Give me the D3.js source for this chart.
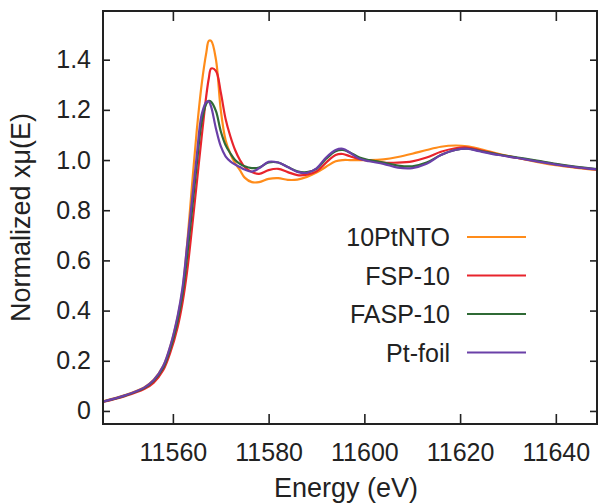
<!DOCTYPE html>
<html lang="en">
<head>
<meta charset="UTF-8">
<title>Pt L3-edge XANES</title>
<script src="https://cdn.jsdelivr.net/npm/d3@7/dist/d3.min.js"></script>
<style>
  body { margin: 0; background: #fff; }
  text { font-family: "Liberation Sans", Arial, sans-serif; fill: #222; }
</style>
</head>
<body>
<svg id="chart" width="600" height="504"></svg>
<script>
// energy grid (eV)
var energy = [11545, 11550, 11554, 11556, 11558, 11559.5, 11561, 11562, 11563, 11564,
  11565, 11566, 11567, 11567.5, 11568, 11569, 11570, 11571, 11572, 11573,
  11574, 11575, 11576.5, 11578, 11580, 11582, 11584, 11586, 11588, 11590,
  11592, 11594, 11595.5, 11597, 11599, 11601, 11604, 11607, 11610, 11613,
  11616, 11619, 11621.5, 11624, 11628, 11632, 11636, 11640, 11644, 11649];

var ptnto = [0.036, 0.063, 0.094, 0.124, 0.18, 0.26, 0.375, 0.48, 0.67, 0.9,
  1.12, 1.30, 1.43, 1.475, 1.475, 1.40, 1.20, 1.08, 1.025, 0.987,
  0.96, 0.93, 0.912, 0.912, 0.925, 0.928, 0.921, 0.922, 0.933, 0.95,
  0.973, 0.995, 1.0, 1.0, 1.0, 1.0, 1.003, 1.012, 1.025, 1.04,
  1.053, 1.058, 1.055, 1.045, 1.025, 1.008, 0.993, 0.98, 0.97, 0.96];

var fsp = [0.034, 0.059, 0.087, 0.113, 0.163, 0.235, 0.335, 0.43, 0.56, 0.73,
  0.91, 1.09, 1.26, 1.325, 1.365, 1.355, 1.27, 1.165, 1.095, 1.04,
  1.0, 0.972, 0.952, 0.945, 0.96, 0.965, 0.952, 0.94, 0.942, 0.955,
  0.99, 1.02, 1.024, 1.015, 1.003, 0.998, 0.99, 0.99, 0.995, 1.01,
  1.033, 1.047, 1.05, 1.04, 1.022, 1.008, 0.996, 0.983, 0.972, 0.962];

var fasp = [0.035, 0.061, 0.091, 0.12, 0.173, 0.25, 0.36, 0.465, 0.62, 0.8,
  0.985, 1.15, 1.225, 1.236, 1.232, 1.195, 1.115, 1.06, 1.027, 1.0,
  0.985, 0.975, 0.968, 0.97, 0.99, 0.99, 0.972, 0.955, 0.952, 0.965,
  1.005, 1.035, 1.04, 1.03, 1.01, 1.0, 0.99, 0.978, 0.975, 0.99,
  1.02, 1.04, 1.045, 1.037, 1.022, 1.01, 0.998, 0.985, 0.974, 0.963];

var ptfoil = [0.035, 0.062, 0.093, 0.123, 0.18, 0.262, 0.38, 0.49, 0.665, 0.84,
  1.02, 1.18, 1.232, 1.233, 1.212, 1.125, 1.055, 1.015, 0.995, 0.982,
  0.972, 0.962, 0.954, 0.967, 0.993, 0.99, 0.972, 0.953, 0.949, 0.967,
  1.01, 1.04, 1.045, 1.029, 1.005, 0.995, 0.985, 0.97, 0.968, 0.985,
  1.02, 1.04, 1.045, 1.035, 1.02, 1.008, 0.995, 0.982, 0.972, 0.962];

var seriesNames = ["10PtNTO", "FSP-10", "FASP-10", "Pt-foil"];
var seriesValues = [ptnto, fsp, fasp, ptfoil];
var seriesColors = ["#ff8c1a", "#e8242c", "#2f6a35", "#6a40a8"];

var xTicks = [11560, 11580, 11600, 11620, 11640];
var yTicks = [0, 0.2, 0.4, 0.6, 0.8, 1.0, 1.2, 1.4];

// layout
var plotL = 103, plotT = 11, plotR = 597, plotB = 424;
var svg = d3.select("#chart");

var x = d3.scaleLinear().domain([11545.4, 11648.6]).range([plotL, plotR]);
var y = d3.scaleLinear().domain([-0.052, 1.594]).range([plotB, plotT]);

svg.append("defs").append("clipPath").attr("id", "plotclip")
  .append("rect").attr("x", plotL).attr("y", plotT)
  .attr("width", plotR - plotL).attr("height", plotB - plotT);

// curves
var line = d3.line()
  .x(function (d) { return x(d[0]); })
  .y(function (d) { return y(d[1]); })
  .curve(d3.curveCatmullRom.alpha(0.5));

var curves = svg.append("g").attr("clip-path", "url(#plotclip)");
seriesValues.forEach(function (vals, i) {
  var pts = energy.map(function (e, j) { return [e, vals[j]]; });
  curves.append("path")
    .attr("d", line(pts))
    .attr("fill", "none")
    .attr("stroke", seriesColors[i])
    .attr("stroke-width", 2.2);
});

// axes (ticks inside on all four sides)
var fmt = function (d) { return d === 0 ? "0" : d3.format(".1f")(d); };

var xb = svg.append("g").attr("transform", "translate(0," + plotB + ")")
  .call(d3.axisBottom(x).tickValues(xTicks).tickSize(-10).tickPadding(19).tickFormat(d3.format("d")));
var xt = svg.append("g").attr("transform", "translate(0," + plotT + ")")
  .call(d3.axisTop(x).tickValues(xTicks).tickSize(-10).tickFormat(""));
var yl = svg.append("g").attr("transform", "translate(" + plotL + ",0)")
  .call(d3.axisLeft(y).tickValues(yTicks).tickSize(-7).tickPadding(12).tickFormat(fmt));
var yr = svg.append("g").attr("transform", "translate(" + plotR + ",0)")
  .call(d3.axisRight(y).tickValues(yTicks).tickSize(-7).tickFormat(""));

[xb, xt, yl, yr].forEach(function (g) {
  g.select(".domain").remove();
  g.selectAll(".tick line").attr("stroke", "#222").attr("stroke-width", 1.6);
  g.selectAll(".tick text").style("font-size", "25px").attr("fill", "#222")
    .style("font-family", "'Liberation Sans', Arial, sans-serif");
});

svg.append("rect")
  .attr("x", plotL).attr("y", plotT)
  .attr("width", plotR - plotL).attr("height", plotB - plotT)
  .attr("fill", "none").attr("stroke", "#222").attr("stroke-width", 2);

// axis titles
svg.append("text")
  .attr("x", (plotL + plotR) / 2 - 4).attr("y", 497)
  .attr("text-anchor", "middle")
  .style("font-size", "27px")
  .text("Energy (eV)");

svg.append("text")
  .attr("transform", "translate(30," + ((plotT + plotB) / 2) + ") rotate(-90)")
  .attr("text-anchor", "middle")
  .style("font-size", "27px")
  .text("Normalized xμ(E)");

// legend
var legend = svg.append("g");
seriesNames.forEach(function (name, k) {
  var ly = 237 + k * 38.5;
  legend.append("text")
    .attr("x", 450).attr("y", ly + 9)
    .attr("text-anchor", "end")
    .style("font-size", "25px")
    .text(name);
  legend.append("line")
    .attr("x1", 467).attr("x2", 526)
    .attr("y1", ly).attr("y2", ly)
    .attr("stroke", seriesColors[k]).attr("stroke-width", 2);
});
</script>
</body>
</html>
